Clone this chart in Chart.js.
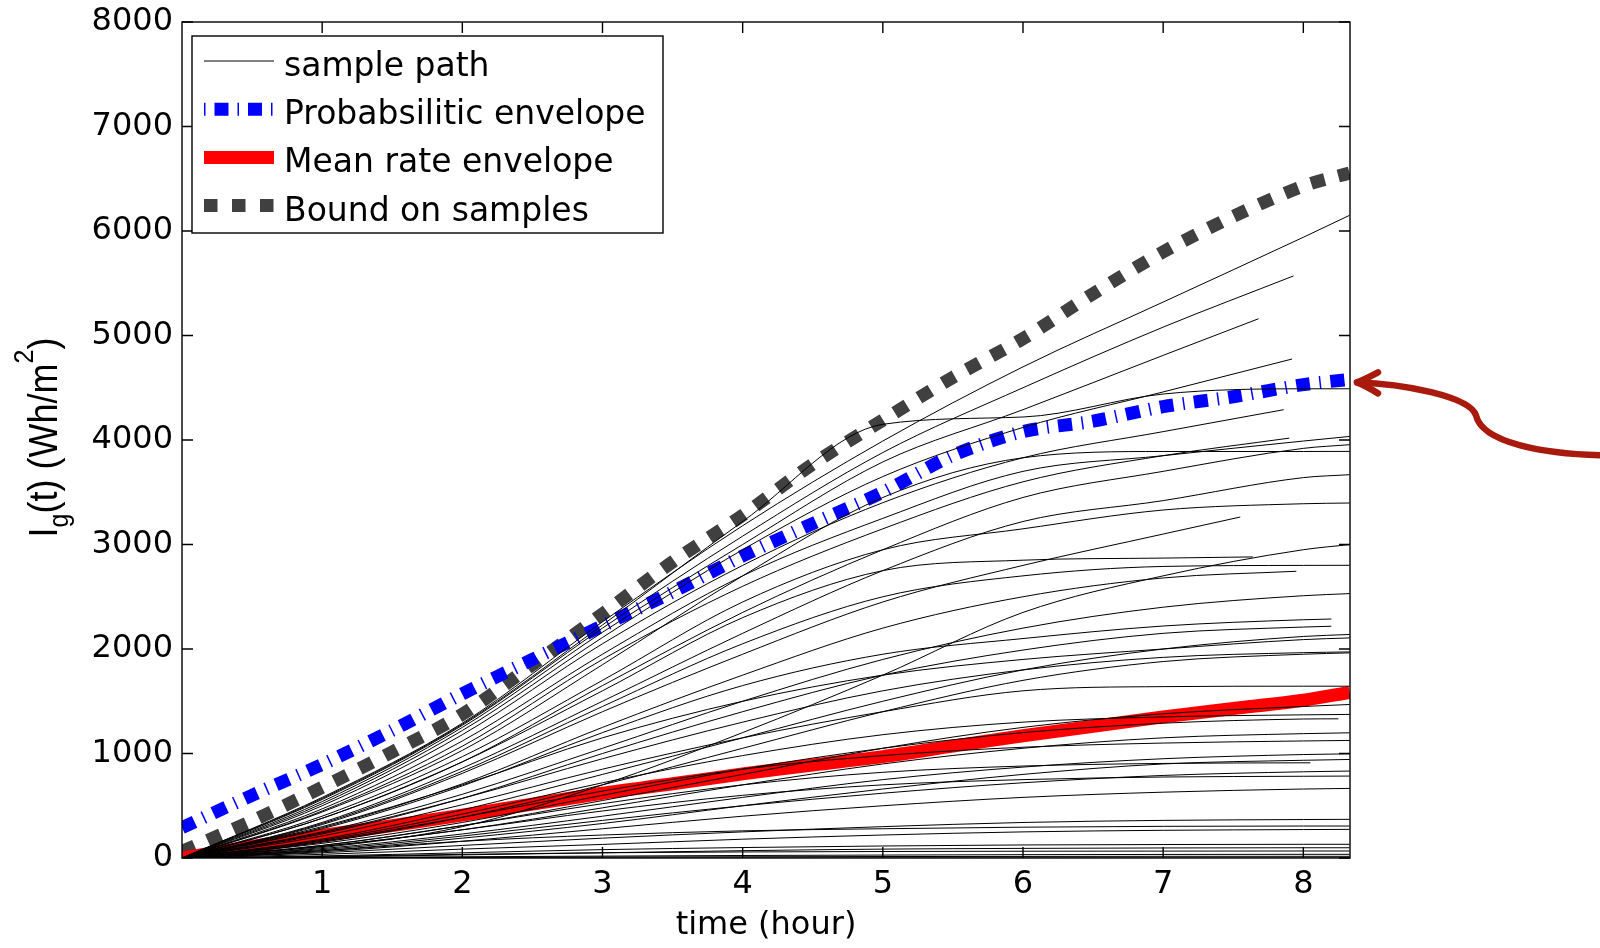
<!DOCTYPE html>
<html>
<head>
<meta charset="utf-8">
<script src="https://cdn.jsdelivr.net/npm/chart.js@4.4.1/dist/chart.umd.min.js"></script>
<style>
  html, body { margin: 0; padding: 0; background: #fff; }
  #chart { display: block; }
</style>
</head>
<body>
<canvas id="chart" width="1600" height="948"></canvas>
<script>
// hourly grid for the sample paths
const hours = [0, 1, 2, 3, 4, 5, 6, 7, 8];

// each path: values at hours 0..8 (null after the path stops), then the last value
const samplePaths = [
  [0, 580, 1290, 2260, 3180, 3990, 4700, 5320, 5940, 6150],
  [0, 560, 1270, 2200, 3080, 3880, 4500, 5080, null, 5570],
  [0, 540, 1250, 2160, 3000, 3790, 4290, 4810, null, 5160],
  [0, 520, 1220, 2110, 2950, 3650, 4120, 4460, null, 4775],
  [0, 570, 1280, 2230, 3220, 4150, 4220, 4440, 4490, 4490],
  [0, 500, 1180, 2050, 2800, 3400, 3830, 4080, null, 4290],
  [0, 470, 1120, 1950, 2700, 3250, 3700, 3850, 3990, 4034],
  [0, 450, 1070, 1900, 2600, 3150, 3600, 3850, null, 4018],
  [0, 440, 1030, 1850, 2700, 3450, 3830, 3890, 3890, 3891],
  [0, 380, 920, 1650, 2350, 2950, 3450, 3700, 3920, 3955],
  [0, 340, 860, 1500, 2150, 2750, 3220, 3420, 3640, 3668],
  [0, 400, 970, 1700, 2450, 2950, 3150, 3330, 3390, 3397],
  [0, 320, 810, 1400, 1950, 2450, 2800, 3100, null, 3263],
  [0, 100, 300, 700, 1200, 1750, 2350, 2700, 2950, 2999],
  [0, 380, 920, 1600, 2300, 2750, 2850, 2870, null, 2881],
  [0, 330, 830, 1450, 2050, 2500, 2700, 2790, 2800, 2801],
  [0, 290, 710, 1250, 1750, 2200, 2500, 2680, null, 2744],
  [0, 250, 610, 1050, 1500, 1900, 2200, 2400, 2510, 2530],
  [0, 280, 690, 1200, 1650, 1950, 2100, 2220, 2280, 2287],
  [0, 230, 570, 1000, 1400, 1750, 1990, 2150, 2210, 2218],
  [0, 180, 460, 800, 1150, 1500, 1800, 2000, 2120, 2139],
  [0, 300, 700, 1150, 1500, 1750, 1900, 2000, 2090, 2106],
  [0, 240, 570, 950, 1300, 1600, 1800, 1920, 1965, 1972],
  [0, 150, 390, 700, 1050, 1400, 1700, 1880, 1950, 1963],
  [0, 210, 510, 850, 1150, 1400, 1600, 1640, 1644, 1644],
  [0, 120, 310, 550, 800, 1050, 1250, 1380, 1450, 1469],
  [0, 170, 420, 720, 980, 1180, 1300, 1350, 1370, 1374],
  [0, 140, 340, 600, 850, 1050, 1200, 1290, 1330, 1332],
  [0, 110, 270, 480, 700, 900, 1050, 1150, 1190, 1198],
  [0, 160, 390, 640, 850, 980, 1060, 1100, 1120, 1125],
  [0, 90, 230, 400, 580, 750, 870, 950, 990, 997],
  [0, 70, 190, 330, 500, 660, 800, 900, 935, 943],
  [0, 120, 310, 520, 700, 820, 880, 905, null, 911],
  [0, 80, 210, 360, 500, 620, 720, 790, 825, 832],
  [0, 110, 270, 450, 600, 700, 750, 775, 782, 784],
  [0, 60, 160, 280, 400, 500, 580, 630, 660, 666],
  [0, 50, 120, 190, 250, 300, 340, 360, 368, 370],
  [0, 70, 160, 220, 260, 280, 295, 303, 306, 306],
  [0, 35, 85, 130, 180, 220, 250, 265, 272, 274],
  [0, 20, 50, 80, 100, 115, 125, 129, 131, 131],
  [0, 10, 30, 50, 70, 85, 92, 96, 98, 98],
  [0, 15, 35, 50, 58, 62, 65, 66, 67, 67],
  [0, 5, 12, 18, 24, 28, 32, 34, 35, 35],
  [0, 0, 5, 10, 12, 14, 15, 16, 16, 16],
  [0, 0, 0, 0, 0, 0, 0, 0, 0, 0]
];
// hour at which each path stops
const sampleEnd = [
  8.33, 7.93, 7.68, 7.92, 8.33, 7.86, 8.33, 7.9, 8.33, 8.33,
  8.33, 8.33, 7.55, 8.33, 7.64, 8.33, 7.95, 8.33, 8.2, 8.2,
  8.33, 8.33, 8.33, 8.33, 8.33, 8.33, 8.33, 8.25, 8.33, 8.33,
  8.33, 8.33, 8.05, 8.33, 8.33, 8.33, 8.33, 8.33, 8.33, 8.33,
  8.33, 8.33, 8.33, 8.33, 8.33
];

// envelopes
const envHours = [0, 0.5, 1, 1.5, 2, 2.5, 3, 3.5, 4, 4.5, 5, 5.5, 6, 6.5, 7, 7.5, 8, 8.33];
const probEnvelope = [290, 600, 895, 1222, 1571, 1900, 2222, 2546, 2890, 3200, 3500, 3854, 4080, 4180, 4319, 4414, 4530, 4580];
const meanEnvelope = [0, 110, 215, 310, 410, 515, 620, 710, 805, 890, 970, 1070, 1170, 1260, 1350, 1430, 1510, 1585];
const boundSamples = [63, 355, 676, 1015, 1375, 1850, 2336, 2834, 3280, 3770, 4190, 4600, 4970, 5400, 5800, 6140, 6430, 6555];

const xTicks = [1, 2, 3, 4, 5, 6, 7, 8];
const legendLabels = ['sample path', 'Probabsilitic envelope', 'Mean rate envelope', 'Bound on samples'];

const FONT = "'DejaVu Sans', sans-serif";

function pathPoints(vals, end) {
  const pts = [];
  hours.forEach((h, j) => {
    if (h < end && vals[j] !== null) pts.push({ x: h, y: vals[j] });
  });
  pts.push({ x: end, y: vals[vals.length - 1] });
  return pts;
}

function envPoints(vals) {
  return envHours.map((h, i) => ({ x: h, y: vals[i] }));
}

const sampleSets = samplePaths.map((p, i) => ({
  label: i === 0 ? legendLabels[0] : '',
  data: pathPoints(p, sampleEnd[i]),
  borderColor: '#000000',
  borderWidth: 1,
  pointRadius: 0,
  cubicInterpolationMode: 'monotone'
}));

const probSet = {
  label: legendLabels[1],
  data: envPoints(probEnvelope),
  borderColor: '#0000ff',
  borderWidth: 13,
  borderDash: [14, 9.5, 1.5, 9.5],
  borderCapStyle: 'butt',
  pointRadius: 0,
  tension: 0.3
};
const meanSet = {
  label: legendLabels[2],
  data: envPoints(meanEnvelope),
  borderColor: '#ff0000',
  borderWidth: 13,
  borderCapStyle: 'butt',
  pointRadius: 0,
  tension: 0.3
};
const boundSet = {
  label: legendLabels[3],
  data: envPoints(boundSamples),
  borderColor: '#404040',
  borderWidth: 13,
  borderDash: [14, 14],
  borderCapStyle: 'butt',
  pointRadius: 0,
  tension: 0.3
};

// the box round the axes with inward ticks on all four sides
const boxPlugin = {
  id: 'box',
  afterDatasetsDraw(chart) {
    const { ctx, chartArea: a, scales } = chart;
    const tl = 11;
    ctx.save();
    ctx.strokeStyle = '#000';
    ctx.lineWidth = 1.4;
    ctx.strokeRect(a.left, a.top, a.right - a.left, a.bottom - a.top);
    ctx.beginPath();
    scales.x.ticks.forEach(t => {
      const px = scales.x.getPixelForValue(t.value);
      ctx.moveTo(px, a.bottom); ctx.lineTo(px, a.bottom - tl);
      ctx.moveTo(px, a.top); ctx.lineTo(px, a.top + tl);
    });
    scales.y.ticks.forEach(t => {
      const py = scales.y.getPixelForValue(t.value);
      ctx.moveTo(a.left, py); ctx.lineTo(a.left + tl, py);
      ctx.moveTo(a.right, py); ctx.lineTo(a.right - tl, py);
    });
    ctx.stroke();
    ctx.restore();
  }
};

// legend in the upper left corner of the axes
const legendPlugin = {
  id: 'boxLegend',
  afterDraw(chart) {
    const ctx = chart.ctx;
    const sets = [chart.data.datasets[0], probSet, meanSet, boundSet];
    ctx.save();
    ctx.fillStyle = '#fff';
    ctx.fillRect(192, 36, 471, 197);
    ctx.strokeStyle = '#000';
    ctx.lineWidth = 1.4;
    ctx.strokeRect(192, 36, 471, 197);
    sets.forEach((ds, i) => {
      const y = 61 + i * 48.2;
      ctx.beginPath();
      ctx.strokeStyle = ds.borderColor;
      ctx.lineWidth = ds.borderWidth;
      ctx.lineCap = 'butt';
      if (i === 1) ctx.setLineDash([1.5, 9, 14, 9]);
      else if (i === 3) ctx.setLineDash([13.5, 14.5]);
      else ctx.setLineDash([]);
      ctx.moveTo(204, y);
      ctx.lineTo(274, y);
      ctx.stroke();
      ctx.setLineDash([]);
      ctx.fillStyle = '#000';
      ctx.font = '33px ' + FONT;
      ctx.textBaseline = 'alphabetic';
      ctx.fillText(legendLabels[i], 284, y + 15);
    });
    ctx.restore();
  }
};

// y axis title with subscript and superscript, plus the red arrow
const extrasPlugin = {
  id: 'extras',
  afterDraw(chart) {
    const ctx = chart.ctx;
    const parts = [
      { t: 'I', size: 36, dy: 0 },
      { t: 'g', size: 25, dy: 9.5 },
      { t: '(t) (Wh/m', size: 36, dy: 0 },
      { t: '2', size: 25, dy: -21 },
      { t: ')', size: 36, dy: 0 }
    ];
    ctx.save();
    let total = 0;
    parts.forEach(p => {
      ctx.font = p.size + "px 'Liberation Sans', Arial, sans-serif";
      p.w = ctx.measureText(p.t).width;
      total += p.w;
    });
    ctx.translate(57, 437.5);
    ctx.rotate(-Math.PI / 2);
    ctx.scale(1, 1.13);
    ctx.fillStyle = '#000';
    ctx.textBaseline = 'alphabetic';
    let x = -total / 2;
    parts.forEach(p => {
      ctx.font = p.size + "px 'Liberation Sans', Arial, sans-serif";
      ctx.fillText(p.t, x, p.dy);
      x += p.w;
    });
    ctx.restore();

    // arrow pointing at the end of the probabilistic envelope
    const a = chart.chartArea;
    const tx = a.right + 7;
    const ty = chart.scales.y.getPixelForValue(probEnvelope[probEnvelope.length - 1]) + 3;
    ctx.save();
    ctx.strokeStyle = '#a81a0e';
    ctx.lineWidth = 6.5;
    ctx.lineCap = 'round';
    ctx.lineJoin = 'round';
    ctx.beginPath();
    ctx.moveTo(tx, ty);
    ctx.bezierCurveTo(tx + 45, ty + 1, tx + 113, ty + 14, tx + 119, ty + 33);
    ctx.bezierCurveTo(tx + 125, ty + 60, tx + 185, ty + 72, tx + 250, ty + 73);
    ctx.stroke();
    ctx.beginPath();
    ctx.moveTo(tx + 21, ty - 10);
    ctx.quadraticCurveTo(tx + 8, ty - 3, tx, ty);
    ctx.quadraticCurveTo(tx + 8, ty + 3, tx + 21, ty + 11);
    ctx.stroke();
    ctx.restore();
  }
};

new Chart(document.getElementById('chart'), {
  type: 'line',
  data: { datasets: [...sampleSets, probSet, meanSet, boundSet] },
  options: {
    responsive: false,
    animation: false,
    devicePixelRatio: 1,
    layout: { padding: { top: 22, right: 250, left: 0, bottom: 0 } },
    plugins: { legend: { display: false }, tooltip: { enabled: false } },
    scales: {
      x: {
        type: 'linear',
        min: 0,
        max: 8.333,
        afterBuildTicks(scale) { scale.ticks = xTicks.map(v => ({ value: v })); },
        afterFit(scale) { scale.height = 90; scale.paddingLeft = 0; scale.paddingRight = 0; },
        grid: { display: false, drawTicks: false },
        border: { display: false },
        ticks: { color: '#000', padding: 7, font: { family: FONT, size: 32 }, maxRotation: 0 },
        title: { display: true, text: 'time (hour)', color: '#000', font: { family: FONT, size: 32 }, padding: { top: 0, bottom: 3 } }
      },
      y: {
        min: 0,
        max: 8000,
        afterFit(scale) { scale.width = 182; scale.paddingTop = 0; scale.paddingBottom = 0; },
        grid: { display: false, drawTicks: false },
        border: { display: false },
        ticks: { stepSize: 1000, color: '#000', padding: 9, font: { family: FONT, size: 32 }, callback: v => String(v) }
      }
    }
  },
  plugins: [boxPlugin, legendPlugin, extrasPlugin]
});
</script>
</body>
</html>
